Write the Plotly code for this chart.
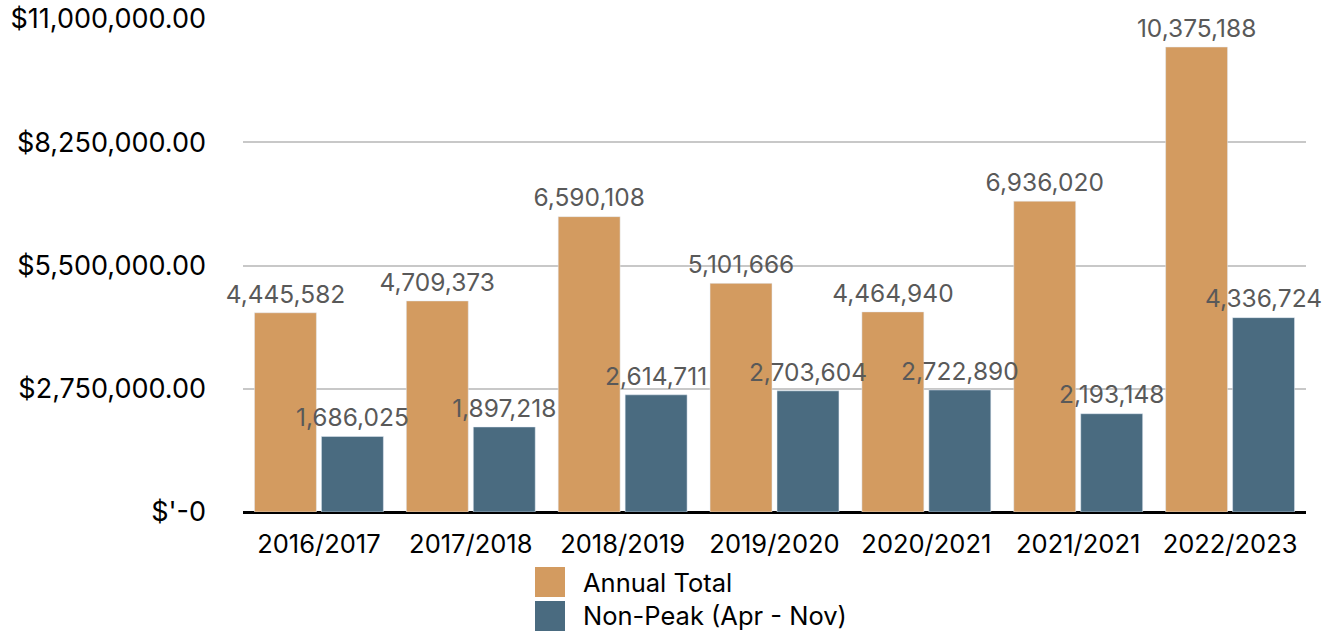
import plotly.graph_objects as go

categories = ["2016/2017", "2017/2018", "2018/2019", "2019/2020", "2020/2021", "2021/2021", "2022/2023"]
annual_total = [4445582, 4709373, 6590108, 5101666, 4464940, 6936020, 10375188]
non_peak = [1686025, 1897218, 2614711, 2703604, 2722890, 2193148, 4336724]
series_names = ["Annual Total", "Non-Peak (Apr - Nov)"]
tick_vals = [0, 2750000, 5500000, 8250000, 11000000]
tick_text = ["$'-0", "$2,750,000.00", "$5,500,000.00", "$8,250,000.00", "$11,000,000.00"]
colors = ["#D39B60", "#4A6B80"]

FONT = "Inter"
BARGAP = 0.118

fig = go.Figure()
for i, (name, vals, col) in enumerate(zip(series_names, [annual_total, non_peak], colors)):
    fig.add_trace(go.Bar(
        x=categories, y=vals, name=name, marker_color=col,
        offsetgroup=str(i), showlegend=False, hoverinfo="skip",
    ))
    fig.add_trace(go.Scatter(
        x=categories, y=vals, mode="markers+text", offsetgroup=str(i),
        marker=dict(size=5, opacity=0, color=col),
        text=[f"{v:,}" for v in vals], textposition="top center",
        textfont=dict(family=FONT, size=24.5, color="#595959"),
        cliponaxis=False, showlegend=False, hoverinfo="skip",
    ))

# manual legend (large swatches)
legend_y = [(-0.1724, -0.1116), (-0.2414, -0.1805)]
for (y0, y1), name, col in zip(legend_y, series_names, colors):
    fig.add_shape(type="rect", xref="paper", yref="paper",
                  x0=0.2747, x1=0.3029, y0=y0, y1=y1,
                  fillcolor=col, line_width=0)
    fig.add_annotation(xref="paper", yref="paper", x=0.3180, y=(y0 + y1) / 2,
                       text=name, showarrow=False, xanchor="left", yanchor="middle",
                       font=dict(family=FONT, size=25.5, color="#000000"))

fig.update_layout(
    width=1340, height=634,
    margin=dict(l=243, r=34, t=19, b=122, autoexpand=False),
    paper_bgcolor="white", plot_bgcolor="white",
    barmode="group", bargap=BARGAP, bargroupgap=0.075,
    scattermode="group", scattergap=BARGAP,
    font=dict(family=FONT, size=22, color="#000000"),
)
fig.update_xaxes(showgrid=False, showline=False, ticks="", automargin=False,
                 ticklabelstandoff=14,
                 tickfont=dict(family=FONT, size=25.5, color="#000000"))
fig.update_yaxes(range=[0, 11000000], tickvals=tick_vals, ticktext=tick_text,
                 showgrid=True, gridcolor="#C8C8C8", gridwidth=1.5,
                 zeroline=True, zerolinecolor="#000000", zerolinewidth=2.5,
                 ticklabelstandoff=36, automargin=False,
                 tickfont=dict(family=FONT, size=27, color="#000000"))

fig.write_html("out.html")
